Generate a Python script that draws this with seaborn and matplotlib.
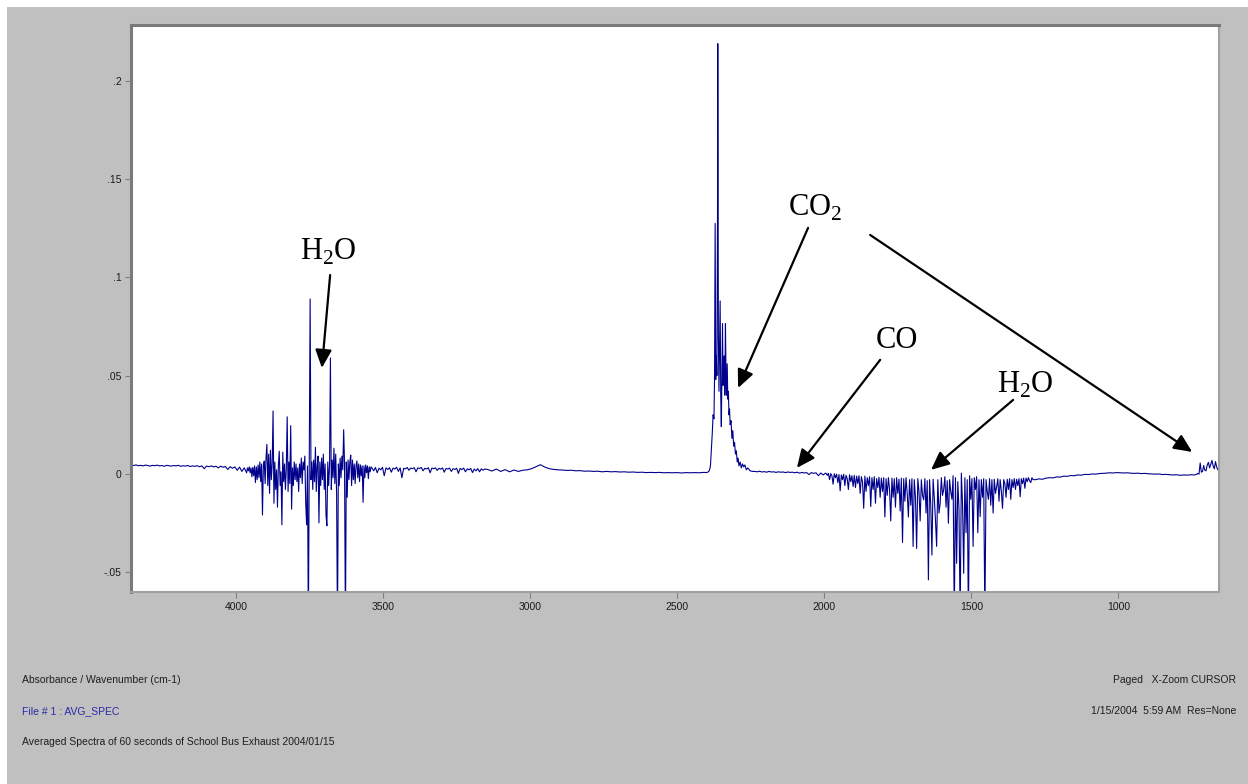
import numpy as np
import pandas as pd
import matplotlib
matplotlib.use("Agg")
import matplotlib.pyplot as plt
import seaborn as sns
from matplotlib.patches import Rectangle

# ---------------------------------------------------------------------------
# Spectrum segments (wavenumber in cm-1, absorbance).
# Uniformly sampled segments: first wavenumber, spacing, absorbance values.
# ---------------------------------------------------------------------------
high_base_start, high_base_step = 4356, 8
high_base = [
    0.0044, 0.0042, 0.0045, 0.0041, 0.0043, 0.0040, 0.0044, 0.0042, 0.0039, 0.0043,
    0.0041, 0.0044, 0.0040, 0.0042, 0.0038, 0.0043, 0.0041, 0.0039, 0.0042, 0.0040,
    0.0043, 0.0038, 0.0041, 0.0039, 0.0042, 0.0037, 0.0040, 0.0038, 0.0041, 0.0036,
    0.0040, 0.0026, 0.0039, 0.0036, 0.0040, 0.0035, 0.0038, 0.0030, 0.0039, 0.0033,
    0.0037, 0.0022, 0.0036, 0.0028, 0.0035, 0.0018, 0.0034, 0.0012, 0.0030, 0.0005,
]

water_stretch_start, water_stretch_step = 3961, 3
water_stretch = [
    0.0030, 0.0015, 0.0035, 0.0005, 0.0030, -0.0015, 0.0032, -0.0010, 0.0040, -0.0045,
    0.0035, -0.0030, 0.0045, -0.0020, 0.0060, -0.0040, 0.0050, -0.0210, 0.0040, 0.0065,
    -0.0050, 0.0080, 0.0150, -0.0060, 0.0100, -0.0100, 0.0120, -0.0030, 0.0050, 0.0320,
    -0.0150, 0.0060, -0.0080, 0.0020, -0.0170, 0.0040, 0.0115, -0.0060, 0.0010, -0.0260,
    0.0110, -0.0040, 0.0050, -0.0080, 0.0030, 0.0290, -0.0090, 0.0060, -0.0050, 0.0245,
    -0.0180, 0.0030, -0.0060, 0.0060, -0.0030, 0.0050, -0.0040, 0.0030, -0.0090, 0.0050,
    -0.0020, 0.0080, -0.0050, 0.0060, 0.0020, 0.0090, -0.0150, -0.0260, 0.0040, -0.0800,
    0.0050, 0.0890, -0.0030, 0.0060, -0.0080, 0.0070, -0.0040, 0.0135, -0.0090, 0.0040,
    0.0090, -0.0250, 0.0060, -0.0060, 0.0080, -0.0030, 0.0100, -0.0080, 0.0050, -0.0210,
    -0.0265, 0.0060, -0.0060, 0.0040, 0.0590, -0.0080, 0.0070, -0.0020, 0.0130, -0.0050,
    0.0100, -0.0100, -0.0800, 0.0050, -0.0060, 0.0080, -0.0020, 0.0090, 0.0020, 0.0224,
    0.0050, -0.0800, 0.0060, -0.0120, 0.0070, -0.0030, 0.0060, 0.0095, -0.0060, 0.0070,
    -0.0030, 0.0050, -0.0050, 0.0040, 0.0065, -0.0020, 0.0050, -0.0040, 0.0045, -0.0010,
    0.0040, -0.0145, 0.0040, -0.0020, 0.0045, 0.0005, 0.0040, -0.0025, 0.0035, 0.0010,
    0.0035,
]

mid_base_start, mid_base_step = 3538, 6
mid_base = [
    0.0030, 0.0015, 0.0032, 0.0005, 0.0028, 0.0020, 0.0033, -0.0010, 0.0030, 0.0022,
    0.0031, 0.0008, 0.0029, 0.0024, 0.0033, 0.0012, 0.0030, -0.0020, 0.0028, 0.0025,
    0.0032, 0.0018, 0.0029, 0.0026, 0.0031, 0.0010, 0.0030, 0.0027, 0.0032, 0.0015,
    0.0028, 0.0024, 0.0031, 0.0005, 0.0029, 0.0026, 0.0030, 0.0017, 0.0028, 0.0023,
    0.0030, 0.0008, 0.0027, 0.0024, 0.0029, 0.0012, 0.0026, 0.0022, 0.0028, 0.0002,
    0.0027, 0.0021, 0.0029, 0.0010, 0.0025, 0.0020, 0.0027, 0.0006, 0.0024, 0.0015,
    0.0026, 0.0010, 0.0025, 0.0018, 0.0024,
]

ch_region_start, ch_region_step = 3145, 15
ch_region = [
    0.0022, 0.0014, 0.0024, 0.0012, 0.0021, 0.0010, 0.0019, 0.0012, 0.0018, 0.0020,
    0.0026, 0.0036, 0.0046, 0.0034, 0.0026, 0.0022, 0.0020, 0.0019, 0.0017, 0.0018,
    0.0015, 0.0016, 0.0013, 0.0014, 0.0012, 0.0013, 0.0010, 0.0012, 0.0010, 0.0011,
    0.0009, 0.0010, 0.0008, 0.0009, 0.0007, 0.0008, 0.0006, 0.0007, 0.0006, 0.0007,
    0.0005, 0.0006, 0.0005, 0.0006, 0.0004, 0.0006, 0.0005, 0.0006, 0.0005,
]

# CO2 asymmetric stretch band, listed point by point
co2_wavenumber = [
    2418, 2410, 2402, 2396, 2391, 2387, 2384, 2381, 2378, 2375,
    2373, 2371, 2369, 2367, 2365, 2363, 2362, 2360, 2358, 2356,
    2354, 2352, 2350, 2348, 2346, 2344, 2342, 2340, 2338, 2336,
    2334, 2332, 2330, 2328, 2326, 2324, 2322, 2320, 2317, 2314,
    2311, 2308, 2305, 2302, 2299, 2296, 2293, 2290, 2286, 2282,
    2278, 2274, 2270, 2265, 2260, 2252, 2244,
]
co2_absorbance = [
    0.0006, 0.0007, 0.0006, 0.0008, 0.0015, 0.0040, 0.0120, 0.0200, 0.0300, 0.0280,
    0.0500, 0.1275, 0.0480, 0.0600, 0.0500, 0.1300, 0.2190, 0.0700, 0.0420, 0.0650,
    0.0880, 0.0400, 0.0240, 0.0500, 0.0765, 0.0450, 0.0550, 0.0600, 0.0400, 0.0765,
    0.0500, 0.0400, 0.0560, 0.0380, 0.0420, 0.0300, 0.0330, 0.0250, 0.0270, 0.0180,
    0.0220, 0.0140, 0.0160, 0.0100, 0.0117, 0.0060, 0.0080, 0.0040, 0.0060, 0.0030,
    0.0050, 0.0035, 0.0045, 0.0020, 0.0030, 0.0015, 0.0012,
]

co_region_start, co_region_step = 2236, 8
co_region = [
    0.0012, 0.0010, 0.0013, 0.0009, 0.0011, 0.0008, 0.0012, 0.0009, 0.0010, 0.0007,
    0.0010, 0.0008, 0.0009, 0.0006, 0.0009, 0.0007, 0.0008, 0.0005, 0.0008, 0.0003,
    0.0007, 0.0004, 0.0006, -0.0004, 0.0006, 0.0002, 0.0005, -0.0010, 0.0004, -0.0006,
    0.0003,
]

water_bend_start, water_bend_step = 1994, 4
water_bend = [
    0.0002, -0.0008, 0.0002, -0.0030, 0.0001, -0.0010, -0.0053, 0.0000, -0.0020, -0.0002,
    -0.0045, -0.0004, -0.0087, -0.0006, -0.0030, -0.0003, -0.0060, -0.0008, -0.0025, -0.0080,
    -0.0005, -0.0040, -0.0010, -0.0065, -0.0008, -0.0070, -0.0012, -0.0050, -0.0010, -0.0100,
    -0.0015, -0.0040, -0.0176, -0.0012, -0.0090, -0.0020, -0.0060, -0.0015, -0.0167, -0.0020,
    -0.0080, -0.0015, -0.0150, -0.0025, -0.0070, -0.0018, -0.0120, -0.0022, -0.0090, -0.0020,
    -0.0220, -0.0025, -0.0110, -0.0020, -0.0080, -0.0240, -0.0022, -0.0120, -0.0025, -0.0170,
    -0.0020, -0.0100, -0.0028, -0.0190, -0.0022, -0.0350, -0.0025, -0.0140, -0.0020, -0.0100,
    -0.0220, -0.0030, -0.0160, -0.0025, -0.0370, -0.0030, -0.0120, -0.0380, -0.0025, -0.0090,
    -0.0240, -0.0030, -0.0110, -0.0133, -0.0025, -0.0200, -0.0035, -0.0540, -0.0030, -0.0160,
    -0.0414, -0.0028, -0.0120, -0.0235, -0.0370, -0.0030, -0.0200, -0.0150, -0.0020, -0.0110,
    -0.0080, -0.0015, -0.0170, -0.0035, -0.0252, -0.0030, -0.0090, -0.0130, -0.0010, -0.0750,
    -0.0020, -0.0456, -0.0040, -0.0180, -0.0750, 0.0003, -0.0150, -0.0507, -0.0020, -0.0300,
    -0.0030, -0.0750, -0.0010, -0.0130, -0.0025, -0.0370, -0.0020, -0.0080, -0.0015, -0.0300,
    -0.0030, -0.0218, -0.0030, -0.0120, -0.0025, -0.0750, -0.0030, -0.0090, -0.0130, -0.0025,
    -0.0160, -0.0030, -0.0200, -0.0028, -0.0100, -0.0066, -0.0025, -0.0140, -0.0030, -0.0090,
    -0.0176, -0.0030, -0.0050, -0.0120, -0.0028, -0.0080, -0.0025, -0.0130, -0.0030, -0.0070,
    -0.0025, -0.0080, -0.0028, -0.0060, -0.0025, -0.0117, -0.0025, -0.0050, -0.0022, -0.0074,
    -0.0022, -0.0040, -0.0020, -0.0035, -0.0045, -0.0020, -0.0030,
]

low_base_start, low_base_step = 1282, 12
low_base = [
    -0.0030, -0.0026, -0.0028, -0.0022, -0.0020, -0.0021, -0.0016, -0.0017, -0.0012, -0.0013,
    -0.0009, -0.0010, -0.0006, -0.0007, -0.0003, -0.0004, -0.0001, -0.0002, 0.0001, 0.0002,
    0.0003, 0.0005, 0.0004, 0.0006, 0.0005, 0.0004, 0.0005, 0.0003, 0.0002, 0.0003,
    0.0001, 0.0002, 0.0000, -0.0001, -0.0002, -0.0001, -0.0004, -0.0003, -0.0005, -0.0006,
    -0.0005, -0.0008, -0.0006, -0.0007, -0.0005, -0.0006,
]

# CO2 bending band at the low-wavenumber edge
bend_wavenumber = [736, 730, 726, 722, 718, 714, 710, 706, 702, 698,
                   694, 690, 686, 682, 678, 674, 670, 666, 662, 658]
bend_absorbance = [-0.0004, 0.0002, -0.0002, 0.0055, 0.0008, 0.0012, 0.0042, 0.0018, 0.0015, 0.0045,
                   0.0058, 0.0030, 0.0048, 0.0068, 0.0040, 0.0025, 0.0062, 0.0035, 0.0020, 0.0030]

x_ticks = [4000, 3500, 3000, 2500, 2000, 1500, 1000]
y_ticks = [-0.05, 0.0, 0.05, 0.1, 0.15, 0.2]
y_tick_labels = ["-.05", "0", ".05", ".1", ".15", ".2"]


def sampled(start, step, values):
    wn = start - step * np.arange(len(values))
    return pd.DataFrame({"wavenumber": wn, "absorbance": values})


spectrum = pd.concat([
    sampled(high_base_start, high_base_step, high_base),
    sampled(water_stretch_start, water_stretch_step, water_stretch),
    sampled(mid_base_start, mid_base_step, mid_base),
    sampled(ch_region_start, ch_region_step, ch_region),
    pd.DataFrame({"wavenumber": co2_wavenumber, "absorbance": co2_absorbance}),
    sampled(co_region_start, co_region_step, co_region),
    sampled(water_bend_start, water_bend_step, water_bend),
    sampled(low_base_start, low_base_step, low_base),
    pd.DataFrame({"wavenumber": bend_wavenumber, "absorbance": bend_absorbance}),
], ignore_index=True)

# ---------------------------------------------------------------------------
sns.set_theme(style="white")
plt.rcParams["font.family"] = ["Liberation Sans", "DejaVu Sans"]
plt.rcParams["mathtext.fontset"] = "custom"
plt.rcParams["mathtext.rm"] = "Liberation Serif"

# grey page with a thin white margin along the top and left edges
fig = plt.figure(figsize=(12.48, 7.84), dpi=100, facecolor="#c0c0c0")
fig.patches.append(Rectangle((0, 1 - 7 / 784), 1, 7 / 784, transform=fig.transFigure,
                             facecolor="white", edgecolor="none", zorder=-5))
fig.patches.append(Rectangle((0, 0), 7 / 1248, 1, transform=fig.transFigure,
                             facecolor="white", edgecolor="none", zorder=-5))

ax = fig.add_axes([131 / 1248, 1 - 592 / 784, (1219 - 131) / 1248, (592 - 25) / 784])
ax.set_facecolor("white")

sns.lineplot(data=spectrum, x="wavenumber", y="absorbance", sort=False,
             estimator=None, color="#00008c", linewidth=0.8, ax=ax)

ax.set_xlim(4357, 658)
ax.set_ylim(-0.0602, 0.2285)
ax.set_xticks(x_ticks)
ax.set_xticklabels([str(t) for t in x_ticks])
ax.set_yticks(y_ticks)
ax.set_yticklabels(y_tick_labels)
ax.set_xlabel("")
ax.set_ylabel("")
ax.tick_params(axis="both", direction="out", length=4, width=0.8, color="#808080",
               labelsize=7.5, labelcolor="#1a1a1a", pad=3,
               bottom=True, left=True)
for side in ("top", "left"):
    ax.spines[side].set_color("#7a7a7a")
    ax.spines[side].set_linewidth(2.2)
for side in ("right", "bottom"):
    ax.spines[side].set_color("#a0a0a0")
    ax.spines[side].set_linewidth(1.5)

# Peak labels and arrows
label_font = dict(family=["Liberation Serif", "DejaVu Serif"], fontsize=22,
                  color="black", ha="center", va="center")
ax.text(3687, 0.1129, r"H$_\mathregular{2}$O", **label_font)
ax.text(2031, 0.1353, r"CO$_\mathregular{2}$", **label_font)
ax.text(1752, 0.0681, "CO", **label_font)
ax.text(1317, 0.0452, r"H$_\mathregular{2}$O", **label_font)

arrow_style = dict(arrowstyle="-|>,head_length=0.55,head_width=0.25", color="black",
                   lw=1.6, mutation_scale=20, shrinkA=0, shrinkB=0)
arrows = [
    ((3680, 0.1012), (3708, 0.0539)),
    ((2055, 0.1252), (2293, 0.0437)),
    ((1844, 0.1216), (749, 0.0111)),
    ((1810, 0.0580), (2093, 0.0030)),
    ((1358, 0.0376), (1637, 0.0020)),
]
for tail, tip in arrows:
    ax.annotate("", xy=tip, xytext=tail, arrowprops=arrow_style)

# Footer information
footer = dict(fontsize=7.5, va="center")
fig.text(22 / 1248, 1 - 680 / 784, "Absorbance / Wavenumber (cm-1)", color="#1e1e1e", ha="left", **footer)
fig.text(22 / 1248, 1 - 711 / 784, "File # 1 : AVG_SPEC", color="#2a2aa8", ha="left", **footer)
fig.text(22 / 1248, 1 - 742 / 784,
         "Averaged Spectra of 60 seconds of School Bus Exhaust 2004/01/15",
         color="#1e1e1e", ha="left", **footer)
fig.text(1236 / 1248, 1 - 680 / 784, "Paged   X-Zoom CURSOR", color="#1e1e1e", ha="right", **footer)
fig.text(1236 / 1248, 1 - 711 / 784, "1/15/2004  5:59 AM  Res=None", color="#1e1e1e", ha="right", **footer)

fig.savefig("out.png", dpi=100, facecolor=fig.get_facecolor())
